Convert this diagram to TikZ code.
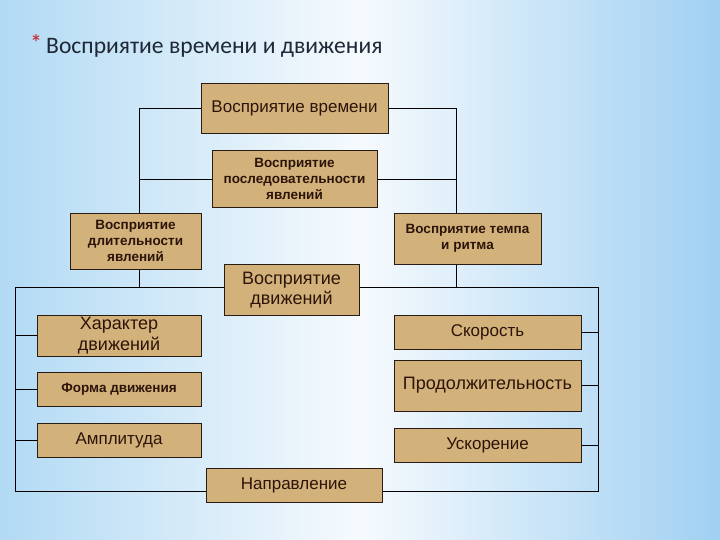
\documentclass[tikz,border=0pt]{standalone}
\usepackage{fontspec}
\setmainfont{Liberation Sans}
\newfontfamily\titlefont{Carlito}
\definecolor{boxfill}{RGB}{210,178,122}
\definecolor{boxline}{RGB}{40,28,20}
\definecolor{boxtext}{RGB}{45,20,10}
\definecolor{bgleft}{RGB}{178,218,244}
\definecolor{bgmid}{RGB}{246,250,253}
\definecolor{bgright}{RGB}{160,208,242}
\definecolor{titlecol}{RGB}{30,40,55}
\definecolor{starcol}{RGB}{200,30,30}
\pgfdeclarelayer{back}
\pgfdeclarelayer{lines}
\pgfsetlayers{back,lines,main}
\begin{document}
\begin{tikzpicture}[x=1pt,y=-1pt,
  box/.style={draw=boxline,line width=0.9pt,fill=boxfill,text=boxtext,
    rectangle,inner sep=0pt,align=center,anchor=center},
  reg/.style={font=\fontsize{17}{19}\selectfont},
  big/.style={font=\fontsize{18}{20}\selectfont},
  bld/.style={font=\bfseries\fontsize{13.5}{16}\selectfont},
  conn/.style={draw=black,line width=0.8pt}]
\useasboundingbox (0,0) rectangle (720,540);
\begin{pgfonlayer}{back}
\shade[left color=bgleft,right color=bgright,middle color=bgmid] (0,0) rectangle (720,540);
\end{pgfonlayer}
% title
\node[anchor=base west,text=starcol,font=\titlefont\fontsize{24}{24}\selectfont,inner sep=0pt] (star) at (30,52) {*};
\node[anchor=base west,text=titlecol,font=\titlefont\fontsize{23.6}{24}\selectfont,inner sep=0pt] (title) at (46,54) {Восприятие времени и движения};
% coordinates for connector lines
\coordinate (L) at (139,105);
\coordinate (R) at (456,105);
\coordinate (TL) at (15,287);
\coordinate (TR) at (598,287);
\coordinate (BL) at (15,491);
\coordinate (BR) at (598,491);
% nodes
\path
  node[box,reg,minimum width=187,minimum height=50] (b1) at (294.5,108) {Восприятие времени}
  node[box,bld,minimum width=165,minimum height=57] (b2) at (294.5,179) {Восприятие\\последовательности\\явлений}
  node[box,bld,minimum width=131,minimum height=56] (b3) at (135.5,241) {Восприятие\\длительности\\явлений}
  node[box,bld,minimum width=147,minimum height=51] (b4) at (467.5,238.5) {Восприятие темпа\\и ритма}
  node[box,big,minimum width=135,minimum height=51] (b5) at (291.5,290) {Восприятие\\движений}
  node[box,font=\fontsize{18}{21}\selectfont,minimum width=164,minimum height=41] (har) at (119,335.5) {Характер\\движений}
  node[box,bld,minimum width=164,minimum height=34] (form) at (119,389) {Форма движения}
  node[box,reg,minimum width=164,minimum height=34] (amp) at (119,440) {Амплитуда}
  node[box,reg,minimum width=187,minimum height=34] (sk) at (487.5,332) {Скорость}
  node[box,big,minimum width=187,minimum height=51] (prod) at (487.5,385.5) {Продолжительность}
  node[box,reg,minimum width=187,minimum height=34] (usk) at (487.5,445) {Ускорение}
  node[box,reg,minimum width=176,minimum height=34] (napr) at (294,485) {Направление};
% connectors behind boxes
\begin{pgfonlayer}{lines}
\draw[conn] (b1.west) -| (b3.north -| L);
\draw[conn] (b1.east) -| (b4.north -| R);
\draw[conn] (b2.west) -- (b2.west -| L);
\draw[conn] (b2.east) -- (b2.east -| R);
\draw[conn] (b3.south -| L) -- (L |- TL);
\draw[conn] (b4.south -| R) -- (R |- TL);
\draw[conn] (TL) -- (TR) -- (BR) -- (BL) -- cycle;
\draw[conn] (har.west) -- (har.west -| TL);
\draw[conn] (form.west) -- (form.west -| TL);
\draw[conn] (amp.west) -- (amp.west -| TL);
\draw[conn] (sk.east) -- (sk.east -| TR);
\draw[conn] (prod.east) -- (prod.east -| TR);
\draw[conn] (usk.east) -- (usk.east -| TR);
\end{pgfonlayer}
\end{tikzpicture}
\end{document}
